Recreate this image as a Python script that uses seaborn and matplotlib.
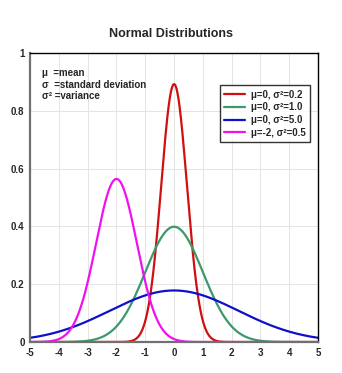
import numpy as np
import pandas as pd
import seaborn as sns
import matplotlib
matplotlib.use("Agg")
import matplotlib.pyplot as plt
from matplotlib.lines import Line2D

# parameters of the plotted normal distributions
mus = [0, 0, 0, -2]
variances = [0.2, 1.0, 5.0, 0.5]
labels = ["μ=0, σ²=0.2", "μ=0, σ²=1.0", "μ=0, σ²=5.0", "μ=-2, σ²=0.5"]
colors = ["#d01010", "#3a9a6a", "#1010c8", "#f010f0"]
xticks = [-5, -4, -3, -2, -1, 0, 1, 2, 3, 4, 5]
yticks = [0, 0.2, 0.4, 0.6, 0.8, 1]
ytick_labels = ["0", "0.2", "0.4", "0.6", "0.8", "1"]

sns.set_style("white")
plt.rcParams["font.family"] = ["Liberation Sans", "DejaVu Sans"]
plt.rcParams["axes.unicode_minus"] = False

x = np.linspace(-5, 5, 801)
frames = []
for m, v, lab in zip(mus, variances, labels):
    y = np.exp(-(x - m) ** 2 / (2 * v)) / np.sqrt(2 * np.pi * v)
    frames.append(pd.DataFrame({"x": x, "y": y, "dist": lab}))
df = pd.concat(frames)

fig = plt.figure(figsize=(3.42, 3.73), dpi=100)
ax = fig.add_axes([0.088, 0.083, 0.842, 0.775])
sns.lineplot(data=df, x="x", y="y", hue="dist", palette=dict(zip(labels, colors)),
             hue_order=labels, linewidth=1.6, ax=ax, legend=False)

ax.set_xlim(-5, 5)
ax.set_ylim(0, 1)
ax.set_xticks(xticks)
ax.set_yticks(yticks)
ax.set_yticklabels(ytick_labels)
ax.set_xlabel("")
ax.set_ylabel("")
ax.grid(True, color="#e4e4e4", linewidth=0.7)
ax.set_axisbelow(True)
for s in ["left", "bottom"]:
    ax.spines[s].set_color("#707070")
    ax.spines[s].set_linewidth(1.6)
for s in ["top", "right"]:
    ax.spines[s].set_color("black")
    ax.spines[s].set_linewidth(1.0)
ax.tick_params(axis="both", length=0, labelsize=7, pad=4)
for t in ax.get_xticklabels() + ax.get_yticklabels():
    t.set_fontweight("bold")

fig.text(0.5, 0.91, "Normal Distributions", ha="center", va="center",
         fontsize=9, fontweight="bold")

ax.text(0.04, 0.93, "μ  =mean", transform=ax.transAxes, fontsize=7, fontweight="bold", va="center")
ax.text(0.04, 0.89, "σ  =standard deviation", transform=ax.transAxes, fontsize=7, fontweight="bold", va="center")
ax.text(0.04, 0.85, "σ² =variance", transform=ax.transAxes, fontsize=7, fontweight="bold", va="center")

handles = [Line2D([], [], color=c, linewidth=1.6) for c in colors]
leg = ax.legend(handles, labels, loc="upper right", bbox_to_anchor=(0.99, 0.905),
                frameon=True, fancybox=False, edgecolor="black",
                handlelength=2.2, handletextpad=0.6, labelspacing=0.28,
                borderpad=0.45, prop={"weight": "bold", "size": 7})
leg.get_frame().set_linewidth(1.0)

fig.savefig("out.png", dpi=100, facecolor="white")
